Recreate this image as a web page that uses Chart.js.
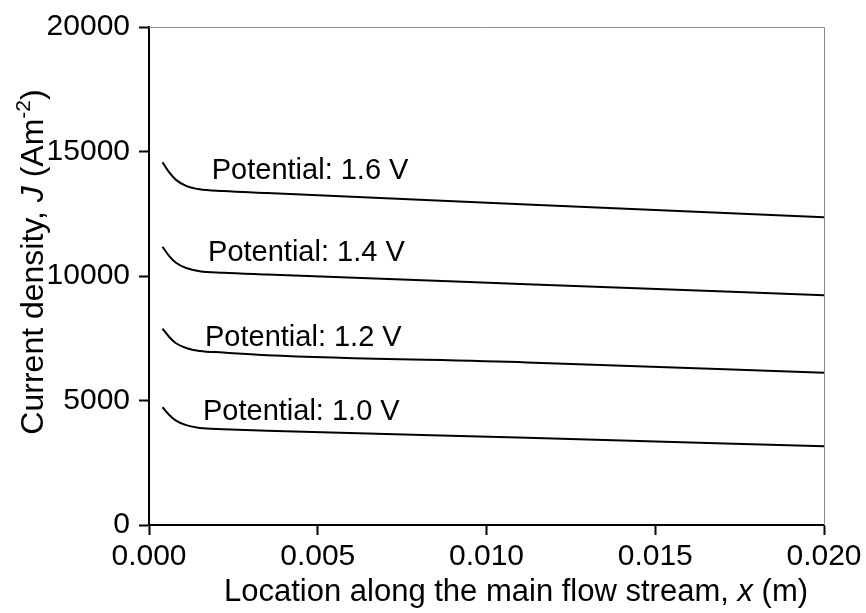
<!DOCTYPE html>
<html>
<head>
<meta charset="utf-8">
<script src="https://cdn.jsdelivr.net/npm/chart.js@4.4.1/dist/chart.umd.min.js"></script>
<style>
  html, body { margin: 0; padding: 0; background: #ffffff; }
  #wrap { width: 866px; height: 613px; }
</style>
</head>
<body>
<div id="wrap"><canvas id="c" width="866" height="613"></canvas></div>
<script>
// ---- data ----
const locations = [0.0004, 0.0006, 0.0008, 0.0011, 0.0015, 0.0022, 0.0035, 0.0112, 0.0200];
const j16 = [14570, 14160, 13860, 13620, 13480, 13410, 13330, 12870, 12360];
const j14 = [11170, 10800, 10530, 10320, 10190, 10130, 10060, 9670, 9230];
const j12 = [7890, 7550, 7300, 7110, 6990, 6930, 6820, 6530, 6110];
const j10 = [4730, 4420, 4190, 4010, 3900, 3850, 3790, 3500, 3160];
const seriesNames = ["Potential: 1.6 V", "Potential: 1.4 V", "Potential: 1.2 V", "Potential: 1.0 V"];
const labelX = [0.00186, 0.00175, 0.00166, 0.00160];
const labelY = [13880, 10600, 7200, 4200];
const xTicks = [0, 0.005, 0.010, 0.015, 0.020];
const yTicks = [0, 5000, 10000, 15000, 20000];

const FONT = "'Liberation Sans', Arial, sans-serif";

function toPts(ys) { return locations.map((x, i) => ({ x: x, y: ys[i] })); }

function mkSet(name, ys) {
  return {
    label: name,
    data: toPts(ys),
    borderColor: '#000000',
    borderWidth: 2,
    pointRadius: 0,
    fill: false,
    showLine: true,
    cubicInterpolationMode: 'monotone'
  };
}

function drawSegments(ctx, segs, x, y) {
  let cx = x;
  for (const s of segs) {
    ctx.font = s.font;
    ctx.fillText(s.t, cx, y + (s.dy || 0));
    cx += ctx.measureText(s.t).width;
  }
  return cx - x;
}
function segWidth(ctx, segs) {
  let w = 0;
  for (const s of segs) { ctx.font = s.font; w += ctx.measureText(s.t).width; }
  return w;
}

const decor = {
  id: 'decor',
  afterDraw(chart) {
    const ctx = chart.ctx;
    const a = chart.chartArea;
    const xs = chart.scales.x, ys = chart.scales.y;
    ctx.save();
    // thin frame top & right
    ctx.strokeStyle = '#8c8c8c';
    ctx.lineWidth = 1;
    ctx.beginPath();
    ctx.moveTo(a.left, a.top + 0.5);
    ctx.lineTo(a.right + 0.5, a.top + 0.5);
    ctx.lineTo(a.right + 0.5, a.bottom);
    ctx.stroke();

    // series labels
    ctx.fillStyle = '#000';
    ctx.textBaseline = 'alphabetic';
    ctx.textAlign = 'left';
    ctx.font = '29px ' + FONT;
    for (let i = 0; i < seriesNames.length; i++) {
      ctx.fillText(seriesNames[i], xs.getPixelForValue(labelX[i]), ys.getPixelForValue(labelY[i]));
    }

    // x title
    const nfx = '31px ' + FONT, itfx = 'italic 31px ' + FONT;
    const xsegs = [
      { t: 'Location along the main flow stream, ', font: nfx },
      { t: 'x', font: itfx },
      { t: ' (m)', font: nfx }
    ];
    const xw = segWidth(ctx, xsegs);
    drawSegments(ctx, xsegs, 516 - xw / 2, 601);

    // y title (rotated)
    const nf = '32px ' + FONT, itf = 'italic 32px ' + FONT, sup = '21px ' + FONT;
    const ysegs = [
      { t: 'Current density, ', font: nf },
      { t: 'J', font: itf },
      { t: ' (Am', font: nf },
      { t: '-2', font: sup, dy: -13 },
      { t: ')', font: nf }
    ];
    const yw = segWidth(ctx, ysegs);
    ctx.translate(43, 262);
    ctx.rotate(-Math.PI / 2);
    drawSegments(ctx, ysegs, -yw / 2, 0);
    ctx.restore();
  }
};

new Chart(document.getElementById('c'), {
  type: 'scatter',
  data: {
    datasets: [mkSet(seriesNames[0], j16), mkSet(seriesNames[1], j14), mkSet(seriesNames[2], j12), mkSet(seriesNames[3], j10)]
  },
  options: {
    responsive: false,
    animation: false,
    devicePixelRatio: 1,
    layout: { padding: { left: 0, top: 25, right: 42, bottom: 0 } },
    plugins: { legend: { display: false }, tooltip: { enabled: false }, title: { display: false } },
    scales: {
      x: {
        type: 'linear',
        min: 0, max: 0.02,
        afterFit(s) { s.height = 88; },
        afterBuildTicks(s) { s.ticks = xTicks.map(v => ({ value: v })); },
        border: { display: true, color: '#000', width: 2 },
        grid: { display: true, drawOnChartArea: false, drawTicks: true, tickLength: 10, tickColor: '#000', tickWidth: 2 },
        ticks: {
          autoSkip: false, maxRotation: 0, padding: 4, color: '#000',
          font: { family: FONT, size: 30 },
          callback: v => Number(v).toFixed(3)
        }
      },
      y: {
        type: 'linear',
        min: 0, max: 20000,
        afterFit(s) { s.width = 149; },
        afterBuildTicks(s) { s.ticks = yTicks.map(v => ({ value: v })); },
        border: { display: true, color: '#000', width: 2 },
        grid: { display: true, drawOnChartArea: false, drawTicks: true, tickLength: 10, tickColor: '#000', tickWidth: 2 },
        ticks: {
          autoSkip: false, padding: 9, color: '#000',
          font: { family: FONT, size: 30 },
          callback: v => String(v)
        }
      }
    }
  },
  plugins: [decor]
});
</script>
</body>
</html>
